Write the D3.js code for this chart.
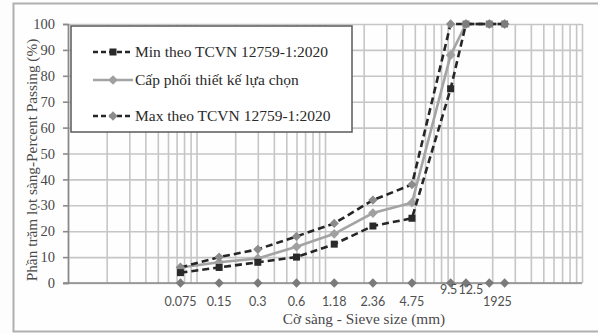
<!DOCTYPE html>
<html>
<head>
<meta charset="utf-8">
<script src="https://cdn.jsdelivr.net/npm/d3@7"></script>
<style>
  body { margin: 0; background: #fff; }
  svg { display: block; }
</style>
</head>
<body>
<div id="chart"></div>
<script>
// Dữ liệu biểu đồ
const sieves = [0.075, 0.15, 0.3, 0.6, 1.18, 2.36, 4.75, 9.5, 12.5, 19, 25];
const sieveLabels = ["0.075", "0.15", "0.3", "0.6", "1.18", "2.36", "4.75", "9.5", "12.5", "19", "25"];
const minValues = [4, 6, 8, 10, 15, 22, 25, 75, 100, 100, 100];
const designValues = [6, 8, 9.5, 14, 19, 27, 31, 88, 100, 100, 100];
const maxValues = [6, 10, 13, 18, 23, 32, 38, 100, 100, 100, 100];
const baseValues = [0, 0, 0, 0, 0, 0, 0, 0, 0, 0, 0];
const yTicks = [0, 10, 20, 30, 40, 50, 60, 70, 80, 90, 100];
const legendNames = ["Min theo TCVN 12759-1:2020", "Cấp phối thiết kế lựa chọn", "Max theo TCVN 12759-1:2020"];

const width = 598, height = 333;
const serif = "'Liberation Serif', 'Times New Roman', serif";

const svg = d3.select("#chart").append("svg")
    .attr("width", width)
    .attr("height", height);

svg.append("rect").attr("width", width).attr("height", height).attr("fill", "#fdfdfd");

// Khung ngoài
svg.append("rect")
    .attr("x", 13.5).attr("y", 3.5)
    .attr("width", 600).attr("height", 328)
    .attr("fill", "#fefefe")
    .attr("stroke", "#b0b0b0")
    .attr("stroke-width", 2);

const x = d3.scaleLog().domain([0.01, 100]).range([68, 582]);
const y = d3.scaleLinear().domain([0, 100]).range([283, 24]);

// Lưới dọc (log)
svg.append("g")
    .attr("transform", `translate(0,${y(0)})`)
    .call(d3.axisBottom(x).ticks(40).tickSize(-(y(0) - y(100))).tickFormat(""))
    .call(g => g.select(".domain").remove())
    .call(g => g.selectAll(".tick line").attr("stroke", "#c6c6c6").attr("stroke-width", 1.6));

// Lưới ngang
svg.append("g")
    .attr("transform", `translate(${x(0.01)},0)`)
    .call(d3.axisLeft(y).tickValues(yTicks).tickSize(-(x(100) - x(0.01))).tickFormat(""))
    .call(g => g.select(".domain").remove())
    .call(g => g.selectAll(".tick line").attr("stroke", "#c6c6c6").attr("stroke-width", 1.6));

// Trục Y
svg.append("g")
    .attr("transform", `translate(${x(0.01)},0)`)
    .call(d3.axisLeft(y).tickValues(yTicks).tickSize(5).tickPadding(8))
    .call(g => g.select(".domain").attr("stroke", "#8a8a8a").attr("stroke-width", 1.6))
    .call(g => g.selectAll(".tick line").attr("stroke", "#8a8a8a").attr("stroke-width", 1.6))
    .call(g => g.selectAll(".tick text")
        .attr("font-family", serif).attr("font-size", 14.5).attr("fill", "#4a4a4a"));

// Trục X (đường 0)
svg.append("line")
    .attr("x1", x(0.01) - 5).attr("x2", x(100))
    .attr("y1", y(0)).attr("y2", y(0))
    .attr("stroke", "#8a8a8a").attr("stroke-width", 1.6);

const line = d3.line().x((d, i) => x(sieves[i])).y(d => y(d));

function diamond(g, data, color, size) {
    g.selectAll("path.mk").data(data).join("path")
        .attr("class", "mk")
        .attr("d", d3.symbol(d3.symbolDiamond2, size))
        .attr("transform", (d, i) => `translate(${x(sieves[i])},${y(d)})`)
        .attr("fill", color);
}
function square(g, data, color, s) {
    g.selectAll("rect.mk").data(data).join("rect")
        .attr("class", "mk")
        .attr("x", (d, i) => x(sieves[i]) - s / 2)
        .attr("y", d => y(d) - s / 2)
        .attr("width", s).attr("height", s)
        .attr("fill", color);
}

// Chuỗi 0 (nhãn cỡ sàng)
const baseG = svg.append("g");
diamond(baseG, baseValues, "#7a7a7a", 55);

// Thiết kế
const designG = svg.append("g");
designG.append("path").datum(designValues)
    .attr("d", line).attr("fill", "none")
    .attr("stroke", "#a4a4a4").attr("stroke-width", 2.6);
diamond(designG, designValues, "#a0a0a0", 60);

// Max
const maxG = svg.append("g");
maxG.append("path").datum(maxValues)
    .attr("d", line).attr("fill", "none")
    .attr("stroke", "#262626").attr("stroke-width", 2.6).attr("stroke-dasharray", "7,4");
diamond(maxG, maxValues, "#8c8c8c", 55);

// Min
const minG = svg.append("g");
minG.append("path").datum(minValues)
    .attr("d", line).attr("fill", "none")
    .attr("stroke", "#262626").attr("stroke-width", 2.6).attr("stroke-dasharray", "7,4");
square(minG, minValues, "#2a2a2a", 7);
minG.selectAll("rect.mk").filter(d => d === 100).attr("fill", "#7c7c7c");

// Nhãn cỡ sàng (9.5 và 12.5 nâng lên để tránh chồng chữ)
const labelShift = { "9.5": [-2, -12], "12.5": [5, -12], "19": [1, 0] };
svg.append("g").selectAll("text").data(sieveLabels).join("text")
    .attr("x", (d, i) => x(sieves[i]) + (labelShift[d] ? labelShift[d][0] : 0))
    .attr("y", d => 306 + (labelShift[d] ? labelShift[d][1] : 0))
    .attr("text-anchor", "middle")
    .attr("font-family", "Lato, 'Open Sans', sans-serif")
    .attr("font-size", 12.5)
    .attr("fill", "#505050")
    .text(d => d);

// Tiêu đề trục
svg.append("text")
    .attr("x", 364).attr("y", 324)
    .attr("text-anchor", "middle")
    .attr("font-family", serif).attr("font-size", 15.3).attr("fill", "#4a4a4a")
    .text("Cờ sàng - Sieve size (mm)");

svg.append("text")
    .attr("transform", "translate(37,160) rotate(-90)")
    .attr("text-anchor", "middle")
    .attr("font-family", serif).attr("font-size", 15.3).attr("fill", "#4a4a4a")
    .text("Phần trăm lọt sàng-Percent Passing (%)");

// Chú thích
const legend = svg.append("g");
legend.append("rect")
    .attr("x", 71).attr("y", 26).attr("width", 281).attr("height", 106)
    .attr("fill", "#fff").attr("stroke", "#5a5a5a").attr("stroke-width", 1.5);

const legendY = [52, 80, 116];
const lx1 = 93, lx2 = 133, lmid = 113;
// Min
legend.append("line").attr("x1", lx1).attr("x2", lx2).attr("y1", legendY[0]).attr("y2", legendY[0])
    .attr("stroke", "#262626").attr("stroke-width", 2.6).attr("stroke-dasharray", "5,3");
legend.append("rect").attr("x", lmid - 3.5).attr("y", legendY[0] - 3.5).attr("width", 7).attr("height", 7).attr("fill", "#2a2a2a");
// Design
legend.append("line").attr("x1", lx1).attr("x2", lx2).attr("y1", legendY[1]).attr("y2", legendY[1])
    .attr("stroke", "#a4a4a4").attr("stroke-width", 2.6);
legend.append("path").attr("d", d3.symbol(d3.symbolDiamond2, 60)).attr("transform", `translate(${lmid},${legendY[1]})`).attr("fill", "#a0a0a0");
// Max
legend.append("line").attr("x1", lx1).attr("x2", lx2).attr("y1", legendY[2]).attr("y2", legendY[2])
    .attr("stroke", "#262626").attr("stroke-width", 2.6).attr("stroke-dasharray", "5,3");
legend.append("path").attr("d", d3.symbol(d3.symbolDiamond2, 55)).attr("transform", `translate(${lmid},${legendY[2]})`).attr("fill", "#8c8c8c");

legend.selectAll("text.lg").data(legendNames).join("text")
    .attr("class", "lg")
    .attr("x", 135)
    .attr("y", (d, i) => legendY[i] + 5)
    .attr("font-family", serif).attr("font-size", 15.5).attr("fill", "#2a2a2a")
    .text(d => d);
</script>
</body>
</html>
